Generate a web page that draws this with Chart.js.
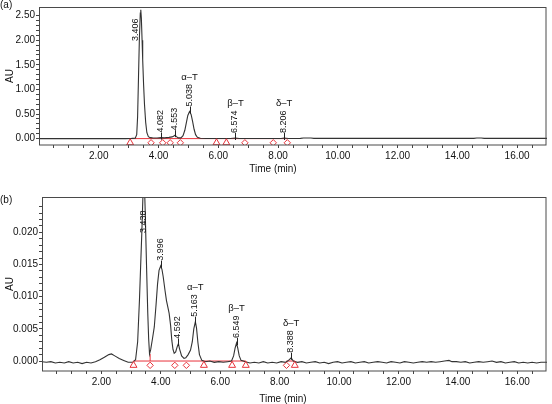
<!DOCTYPE html>
<html>
<head>
<meta charset="utf-8">
<script src="https://cdn.jsdelivr.net/npm/chart.js@4.4.1/dist/chart.umd.min.js"></script>
<style>
	html, body { margin: 0; padding: 0; background: #fff; }
	#page { position: relative; width: 552px; height: 404px; overflow: hidden; }
	canvas { position: absolute; left: 0; }
	#chartA { top: 0; }
	#chartB { top: 190px; }
</style>
</head>
<body>
<div id="page">
	<canvas id="chartA" width="552" height="190"></canvas>
	<canvas id="chartB" width="552" height="214"></canvas>
</div>
<script>
// (a) трасса хроматограммы: время (мин) и AU
const topTime = [0.00, 2.90, 3.10, 3.22, 3.27, 3.30, 3.33, 3.36, 3.39, 3.406, 3.425, 3.45, 3.47, 3.50, 3.53, 3.57, 3.61, 3.66, 3.72, 3.80, 3.95, 4.082, 4.20, 4.35, 4.45, 4.50, 4.553, 4.60, 4.66, 4.75, 4.82, 4.88, 4.93, 4.98, 5.038, 5.09, 5.14, 5.19, 5.24, 5.30, 5.40, 5.60, 6.40, 6.574, 6.70, 8.10, 8.206, 8.35, 8.75, 8.85, 9.10, 9.20, 14.55, 14.65, 14.80, 14.90, 17.00];
const topAU = [0.000, 0.000, 0.004, 0.010, 0.08, 0.45, 1.25, 2.05, 2.55, 2.62, 2.45, 2.00, 1.60, 1.10, 0.70, 0.33, 0.12, 0.04, 0.02, 0.015, 0.012, 0.02, 0.015, 0.025, 0.035, 0.05, 0.07, 0.04, 0.015, 0.015, 0.06, 0.17, 0.32, 0.47, 0.55, 0.49, 0.35, 0.19, 0.08, 0.025, 0.008, 0.003, 0.002, 0.012, 0.002, 0.002, 0.012, 0.003, 0.004, 0.012, 0.012, 0.004, 0.004, 0.012, 0.012, 0.004, 0.004];

// (a) пики
const topPeakTimes = [3.406, 4.082, 4.553, 5.038, 6.574, 8.206];
const topPeakAU = [2.62, 0.02, 0.07, 0.55, 0.012, 0.012];
const topPeakNames = ['', '', '', 'α–T', 'β–T', 'δ–T'];

// (a) начала/концы пиков и базовая линия интегрирования
const topTriangles = [3.05, 5.94, 6.27];
const topDiamonds = [3.75, 4.14, 4.39, 4.73, 6.89, 7.84, 8.31];
const topBaseline = [[3.05, 8.31]];
const topDrops = [];
const topDropAU = [];

// (b) трасса хроматограммы
const bottomTime = [0.00, 0.15, 0.30, 0.45, 0.60, 0.75, 0.90, 1.05, 1.20, 1.35, 1.50, 1.65, 1.80, 1.95, 2.10, 2.25, 2.34, 2.45, 2.60, 2.75, 2.90, 3.05, 3.15, 3.22, 3.28, 3.33, 3.36, 3.40, 3.438, 3.47, 3.52, 3.56, 3.59, 3.62, 3.66, 3.72, 3.78, 3.84, 3.89, 3.94, 3.996, 4.04, 4.08, 4.14, 4.19, 4.24, 4.28, 4.33, 4.37, 4.41, 4.45, 4.50, 4.55, 4.592, 4.63, 4.70, 4.78, 4.84, 4.92, 5.00, 5.06, 5.11, 5.163, 5.20, 5.25, 5.30, 5.38, 5.50, 5.65, 5.80, 5.95, 6.10, 6.25, 6.38, 6.45, 6.50, 6.549, 6.59, 6.64, 6.70, 6.85, 7.00, 7.15, 7.30, 7.45, 7.60, 7.75, 7.90, 8.05, 8.20, 8.30, 8.388, 8.46, 8.60, 8.75, 8.90, 9.05, 9.20, 9.35, 9.50, 9.65, 9.80, 9.95, 10.10, 10.25, 10.40, 10.55, 10.70, 10.85, 11.00, 11.15, 11.30, 11.45, 11.60, 11.75, 11.90, 12.05, 12.20, 12.35, 12.50, 12.65, 12.80, 12.95, 13.10, 13.25, 13.40, 13.55, 13.70, 13.80, 13.95, 14.10, 14.25, 14.40, 14.55, 14.70, 14.85, 15.00, 15.15, 15.30, 15.45, 15.60, 15.75, 15.90, 16.05, 16.20, 16.35, 16.50, 16.65, 16.80, 17.00];
const bottomAU = [-0.0001, -0.0002, -0.0001, -0.0003, -0.0002, -0.0003, -0.0001, -0.0003, -0.0002, -0.0004, -0.0002, -0.0003, -0.0001, 0.0002, 0.0006, 0.0010, 0.0011, 0.0008, 0.0004, 0.0001, -0.0002, -0.0002, 0.0002, 0.0030, 0.0094, 0.0160, 0.0199, 0.0260, 0.0290, 0.0240, 0.0146, 0.0075, 0.0035, 0.0011, 0.0018, 0.0035, 0.0053, 0.0088, 0.0120, 0.0141, 0.0148, 0.0142, 0.0131, 0.0110, 0.0094, 0.0083, 0.0074, 0.0055, 0.0032, 0.0018, 0.0012, 0.0014, 0.0022, 0.0027, 0.0019, 0.0008, 0.0004, 0.0005, 0.0010, 0.0017, 0.0030, 0.0050, 0.0061, 0.0052, 0.0028, 0.0010, 0.0001, -0.0001, 0.0000, -0.0002, -0.0001, -0.0002, -0.0001, 0.0000, 0.0008, 0.0020, 0.0028, 0.0020, 0.0008, 0.0001, -0.0001, -0.0003, -0.0002, -0.0003, -0.0001, -0.0003, -0.0002, -0.0003, -0.0001, -0.0002, 0.0001, 0.0005, 0.0000, -0.0002, -0.0001, -0.0003, -0.0002, -0.0001, -0.0003, -0.0002, -0.0004, -0.0002, -0.0001, -0.0003, -0.0002, -0.0001, -0.0003, -0.0002, -0.0001, -0.0003, -0.0002, -0.0001, -0.0002, -0.0003, -0.0001, -0.0002, -0.0003, -0.0001, -0.0002, -0.0003, -0.0002, -0.0001, -0.0002, -0.0001, -0.0002, -0.0001, 0.0000, 0.0001, -0.0001, -0.0001, -0.0002, -0.0001, -0.0003, -0.0002, -0.0001, -0.0002, -0.0001, 0.0000, -0.0002, -0.0001, -0.0003, -0.0002, -0.0001, -0.0003, -0.0002, -0.0003, -0.0002, -0.0003, -0.0002, -0.0002];

// (b) пики
const bottomPeakTimes = [3.438, 3.996, 4.592, 5.163, 6.549, 8.388];
const bottomPeakAU = [0.0290, 0.0148, 0.0027, 0.0061, 0.0028, 0.0005];
const bottomPeakNames = ['', '', '', 'α–T', 'β–T', 'δ–T'];

// (b) начала/концы пиков и базовая линия интегрирования
const bottomTriangles = [3.08, 5.45, 6.40, 6.86, 8.51];
const bottomDiamonds = [3.64, 4.47, 4.86, 8.23];
const bottomBaseline = [[3.08, 6.86], [8.23, 8.51]];
const bottomDrops = [3.64];
const bottomDropAU = [0.0011];

const FONT = '"Liberation Sans", Arial, Helvetica, sans-serif';
const RED = '#e8323a';
Chart.defaults.font.family = FONT;
Chart.defaults.font.size = 10;
Chart.defaults.color = '#111';

function toPoints(xs, ys) {
	return xs.map((x, i) => ({ x: x, y: ys[i] }));
}

// Рамка, подписи осей и метка панели
const framePlugin = {
	id: 'frame',
	afterDraw(chart, args, opts) {
		const { ctx, chartArea: a } = chart;
		ctx.save();
		ctx.strokeStyle = '#4a4a4a';
		ctx.lineWidth = 1;
		const l = Math.round(a.left) + 0.5;
		const t = Math.round(a.top) + 0.5;
		ctx.strokeRect(l, t, Math.round(a.right) - 1 - l, Math.round(a.bottom) - t);

		ctx.fillStyle = '#111';
		ctx.font = '10px ' + FONT;
		ctx.textBaseline = 'middle';
		ctx.textAlign = 'left';
		ctx.fillText(opts.panel, 0, opts.panelY);
		ctx.textAlign = 'center';
		ctx.fillText('Time (min)', opts.titleX, opts.titleY);
		ctx.translate(10, (a.top + a.bottom) / 2);
		ctx.rotate(-Math.PI / 2);
		ctx.fillText('AU', 0, 0);
		ctx.restore();
	}
};

// Подписи времени удерживания и названий пиков
const peakLabelPlugin = {
	id: 'peakLabels',
	afterDatasetsDraw(chart, args, opts) {
		const { ctx, chartArea: a, scales } = chart;
		ctx.save();
		ctx.fillStyle = '#111';
		ctx.strokeStyle = '#222';
		ctx.lineWidth = 1;
		opts.times.forEach((time, i) => {
			const text = time.toFixed(3);
			ctx.font = '9px ' + FONT;
			const w = ctx.measureText(text).width;

			let x = scales.x.getPixelForValue(time);
			const yPeak = scales.y.getPixelForValue(opts.heights[i]);
			let bottom = yPeak - 5;
			if (bottom - w < a.top + 4) {
				// пик у верхнего края: подпись сбоку от пика
				bottom = a.top + opts.offTop;
				x += opts.offShift;
			} else {
				ctx.beginPath();
				ctx.moveTo(Math.round(x) + 0.5, yPeak + 2);
				ctx.lineTo(Math.round(x) + 0.5, bottom);
				ctx.stroke();
			}
			ctx.save();
			ctx.translate(x - 0.5, bottom);
			ctx.rotate(-Math.PI / 2);
			ctx.textAlign = 'left';
			ctx.textBaseline = 'middle';
			ctx.fillText(text, 0, 0);
			ctx.restore();
			if (opts.names[i]) {
				ctx.font = '9.5px ' + FONT;
				ctx.textAlign = 'center';
				ctx.textBaseline = 'middle';
				ctx.fillText(opts.names[i], x, bottom - w - 7);
			}
		});
		ctx.restore();
	}
};

function createChart(id, cfg) {
	const datasets = [{
		data: toPoints(cfg.time, cfg.au),
		borderColor: '#333',
		borderWidth: 1.1,
		pointRadius: 0,
		showLine: true,
		tension: 0,
		order: 1
	}];

	// базовая линия интегрирования
	cfg.baseline.forEach(seg => {
		datasets.push({
			data: [{ x: seg[0], y: 0 }, { x: seg[1], y: 0 }],
			borderColor: RED,
			borderWidth: 1,
			pointRadius: 0,
			showLine: true,
			order: 2
		});
	});

	cfg.drops.forEach((t, i) => {
		datasets.push({
			data: [{ x: t, y: 0 }, { x: t, y: cfg.dropAU[i] }],
			borderColor: RED,
			borderWidth: 1,
			pointRadius: 0,
			showLine: true,
			order: 2
		});
	});

	// маркеры начала и конца пиков
	datasets.push({
		data: cfg.triangles.map(t => ({ x: t, y: cfg.markerY })),
		pointStyle: 'triangle',
		pointRadius: 4,
		borderColor: RED,
		backgroundColor: 'rgba(0,0,0,0)',
		borderWidth: 1,
		showLine: false,
		order: 0
	});
	datasets.push({
		data: cfg.diamonds.map(t => ({ x: t, y: cfg.markerY })),
		pointStyle: 'rectRot',
		pointRadius: 3.2,
		borderColor: RED,
		backgroundColor: 'rgba(0,0,0,0)',
		borderWidth: 1,
		showLine: false,
		order: 0
	});

	return new Chart(document.getElementById(id), {
		type: 'scatter',
		data: { datasets: datasets },
		options: {
			responsive: false,
			animation: false,
			layout: { padding: cfg.padding },
			plugins: {
				legend: { display: false },
				tooltip: { enabled: false },
				frame: cfg.frame,
				peakLabels: {
					times: cfg.peakTimes,
					heights: cfg.peakAU,
					names: cfg.peakNames,
					offTop: cfg.offTop,
					offShift: cfg.offShift
				}
			},
			scales: {
				x: {
					type: 'linear',
					min: 0,
					max: 17,
					border: { display: false },
					grid: { drawOnChartArea: false, drawTicks: true, tickLength: 3, color: '#444' },
					ticks: {
						stepSize: 0.5,
						autoSkip: false,
						maxRotation: 0,
						padding: 2,
						color: '#111',
						callback: v => (v > 0 && Math.abs(v / 2 - Math.round(v / 2)) < 1e-6) ? v.toFixed(2) : ''
					},
					afterBuildTicks: s => {
						s.ticks = s.ticks.filter(t => t.value > 0.01 && t.value < 16.99);
					},
					afterFit: s => { s.height = cfg.xHeight; }
				},
				y: {
					type: 'linear',
					min: cfg.yMin,
					max: cfg.yMax,
					border: { display: false },
					grid: { drawOnChartArea: false, drawTicks: true, tickLength: 3, color: '#444' },
					ticks: {
						stepSize: cfg.yMinor,
						autoSkip: false,
						padding: 1,
						color: '#111',
						callback: v => {
							const k = v / cfg.yMajor;
							return Math.abs(k - Math.round(k)) < 1e-6 ? v.toFixed(cfg.yDigits) : '';
						}
					},
					afterBuildTicks: s => {
						s.ticks = s.ticks.filter(t => {
							const k = t.value / cfg.yMinor;
							return Math.abs(k - Math.round(k)) < 1e-6;
						});
					},
					afterFit: s => { s.width = cfg.yWidth; }
				}
			}
		},
		plugins: [framePlugin, peakLabelPlugin]
	});
}

createChart('chartA', {
	time: topTime, au: topAU,
	peakTimes: topPeakTimes, peakAU: topPeakAU, peakNames: topPeakNames,
	triangles: topTriangles, diamonds: topDiamonds,
	baseline: topBaseline, drops: topDrops, dropAU: topDropAU,
	markerY: -0.085,
	yMin: -0.13, yMax: 2.675, yMinor: 0.1, yMajor: 0.5, yDigits: 2,
	padding: { top: 1, right: 3, left: 0, bottom: 0 },
	xHeight: 45, yWidth: 39,
	offTop: 34, offShift: -5,
	frame: { panel: '(a)', panelY: 5, titleX: 273, titleY: 169 }
});

createChart('chartB', {
	time: bottomTime, au: bottomAU,
	peakTimes: bottomPeakTimes, peakAU: bottomPeakAU, peakNames: bottomPeakNames,
	triangles: bottomTriangles, diamonds: bottomDiamonds,
	baseline: bottomBaseline, drops: bottomDrops, dropAU: bottomDropAU,
	markerY: -0.00067,
	yMin: -0.00155, yMax: 0.0255, yMinor: 0.001, yMajor: 0.005, yDigits: 3,
	padding: { top: 7, right: 1, left: 0, bottom: 0 },
	xHeight: 33, yWidth: 42,
	offTop: 36, offShift: 0,
	frame: { panel: '(b)', panelY: 10, titleX: 283, titleY: 209 }
});
</script>
</body>
</html>
